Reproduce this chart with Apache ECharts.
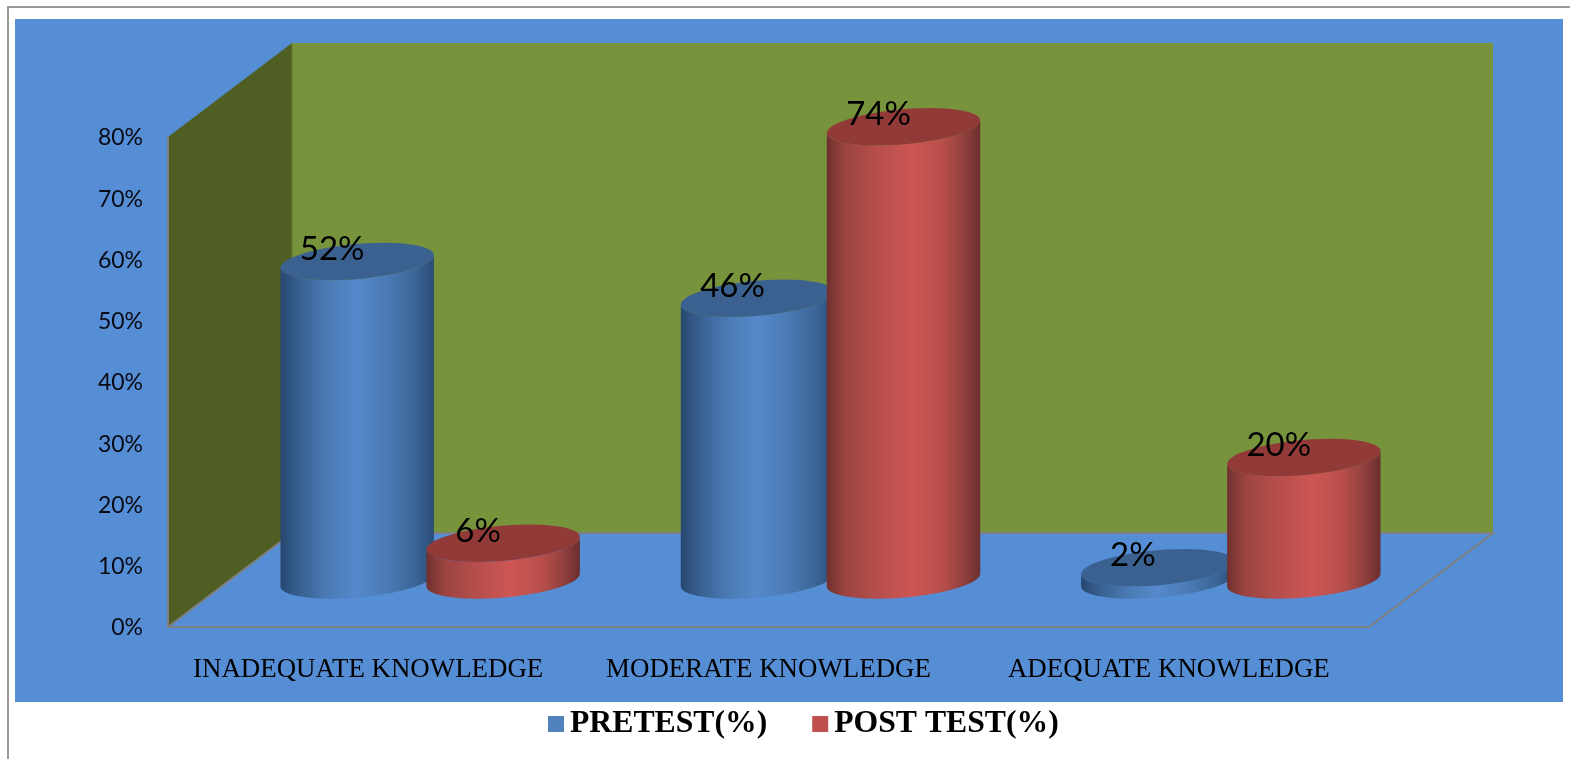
<!DOCTYPE html>
<html>
<head>
<meta charset="utf-8">
<style>html,body{margin:0;padding:0;background:#fff}#c{width:1570px;height:759px}</style>
<script src="https://cdn.jsdelivr.net/npm/echarts@6/dist/echarts.min.js"></script>
</head>
<body>
<div id="c"></div>
<script>
const categories = ['INADEQUATE KNOWLEDGE', 'MODERATE KNOWLEDGE', 'ADEQUATE KNOWLEDGE'];
const pretest = [52, 46, 2];
const posttest = [6, 74, 20];
const yTicks = { min: 0, max: 80, interval: 10 };

const DEPTH_X = 124, DEPTH_Y = 94, BAR_OFFSET = 73, RX = 77, RY = 17.5, TILT = -5 * Math.PI / 180;

function ellipsePts(cx, cy, from, to) {
  const pts = [], n = 48;
  for (let i = 0; i <= n; i++) {
    const t = from + (to - from) * i / n;
    pts.push([
      cx + RX * Math.cos(t) * Math.cos(TILT) - RY * Math.sin(t) * Math.sin(TILT),
      cy + RX * Math.cos(t) * Math.sin(TILT) + RY * Math.sin(t) * Math.cos(TILT)
    ]);
  }
  return pts;
}
function grad(stops) {
  return { type: 'linear', x: 0, y: 0, x2: 1, y2: 0,
    colorStops: stops.map(s => ({ offset: s[0], color: s[1] })) };
}
const blueBody = grad([[0,'#264870'],[0.12,'#38608f'],[0.3,'#4a7ab4'],[0.5,'#5589cb'],[0.7,'#4a7ab4'],[0.88,'#3c6596'],[1,'#2a4c76']]);
const redBody = grad([[0,'#6f302f'],[0.12,'#9c4442'],[0.3,'#b34d4b'],[0.55,'#cd5654'],[0.75,'#b94f4c'],[0.9,'#8f3f3d'],[1,'#6a2e2d']]);

function cylinder(sign, body, top) {
  return function (params, api) {
    const cat = api.value(0), val = api.value(1);
    const front = api.coord([cat, 0]), head = api.coord([cat, val]);
    const cx = front[0] + DEPTH_X / 2 + sign * BAR_OFFSET;
    const by = front[1] - DEPTH_Y / 2;
    const ty = head[1] - DEPTH_Y / 2;
    const lower = ellipsePts(cx, by, 0, Math.PI);
    const topLower = ellipsePts(cx, ty, 0, Math.PI).reverse();
    return {
      type: 'group',
      children: [
        { type: 'polygon', shape: { points: lower.concat(topLower) }, style: { fill: body }, silent: true },
        { type: 'polygon', shape: { points: ellipsePts(cx, ty, 0, Math.PI * 2) }, style: { fill: top }, silent: true },
        { type: 'text', z2: 10, silent: true, x: cx - 25, y: ty - 12,
          style: { text: val + '%', fill: '#000', font: '33px Lato', textAlign: 'center', textVerticalAlign: 'middle' } }
      ]
    };
  };
}

function walls(params) {
  const g = params.coordSys;
  const L = g.x, R = g.x + g.width, T = g.y, B = g.y + g.height;
  const line = { stroke: '#7f7f7f', lineWidth: 2, fill: null };
  return {
    type: 'group',
    children: [
      { type: 'polygon', shape: { points: [[L + DEPTH_X, T - DEPTH_Y], [R + DEPTH_X, T - DEPTH_Y], [R + DEPTH_X, B - DEPTH_Y], [L + DEPTH_X, B - DEPTH_Y]] }, style: { fill: '#77933c' } },
      { type: 'polygon', shape: { points: [[L, T], [L + DEPTH_X, T - DEPTH_Y], [L + DEPTH_X, B - DEPTH_Y], [L, B]] }, style: { fill: '#4f5f24' } },
      { type: 'polyline', shape: { points: [[L, T], [L, B], [R, B], [R + DEPTH_X, B - DEPTH_Y], [L + DEPTH_X, B - DEPTH_Y], [L, B]] }, style: line },
      { type: 'line', shape: { x1: L + DEPTH_X, y1: T - DEPTH_Y, x2: L + DEPTH_X, y2: B - DEPTH_Y }, style: { stroke: '#66783a', lineWidth: 1 } }
    ]
  };
}

const chart = echarts.init(document.getElementById('c'), null, { renderer: 'canvas' });
chart.setOption({
  animation: false,
  backgroundColor: '#ffffff',
  graphic: [
    { type: 'rect', z: -10, silent: true, shape: { x: 15, y: 19, width: 1548, height: 683 }, style: { fill: '#558ed5' } },
    { type: 'polyline', z: -10, silent: true, shape: { points: [[8, 759], [8, 7], [1570, 7]] }, style: { stroke: '#9a9a9a', lineWidth: 2, fill: null } }
  ],
  grid: { left: 168, top: 137, width: 1201, height: 490, containLabel: false },
  legend: {
    left: 543, top: 703, itemWidth: 16, itemHeight: 16, itemGap: 45, icon: 'rect',
    data: ['PRETEST(%)', 'POST TEST(%)'],
    selectedMode: false,
    textStyle: { fontFamily: 'Liberation Serif', fontWeight: 'bold', fontSize: 31.7, color: '#000', padding: [0, 0, 0, 1] }
  },
  xAxis: {
    type: 'category', data: categories,
    axisTick: { show: false }, axisLine: { show: false }, splitLine: { show: false },
    axisLabel: { margin: 29, color: '#000', fontFamily: 'Liberation Serif', fontSize: 26.9, interval: 0 }
  },
  yAxis: {
    type: 'value', min: yTicks.min, max: yTicks.max, interval: yTicks.interval,
    axisLine: { show: false }, axisTick: { show: false }, splitLine: { show: false },
    axisLabel: { margin: 25, formatter: '{value}%', color: '#0a0a14', fontFamily: 'Lato', fontSize: 23, verticalAlign: 'top', lineHeight: 2 }
  },
  series: [
    { type: 'custom', name: 'walls', silent: true, z: 1, coordinateSystem: 'cartesian2d', renderItem: walls, data: [[0, 0]], encode: { x: 0, y: 1 } },
    { type: 'custom', name: 'PRETEST(%)', z: 2, renderItem: cylinder(-1, blueBody, '#3b6191'), itemStyle: { color: '#4f81bd' },
      data: pretest.map((v, i) => [i, v]), encode: { x: 0, y: 1 } },
    { type: 'custom', name: 'POST TEST(%)', z: 3, renderItem: cylinder(1, redBody, '#923a38'), itemStyle: { color: '#c0504d' },
      data: posttest.map((v, i) => [i, v]), encode: { x: 0, y: 1 } }
  ]
});
</script>
</body>
</html>
